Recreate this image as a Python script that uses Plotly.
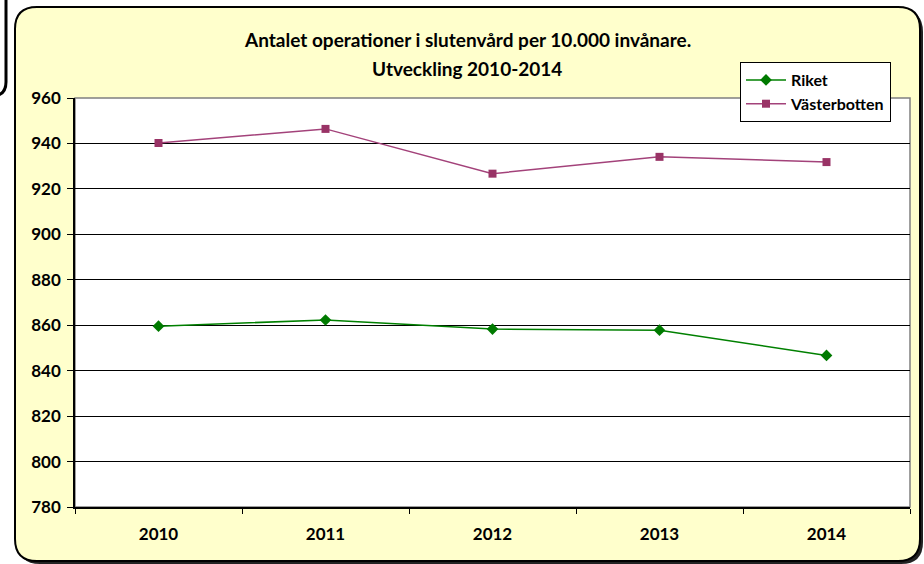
import plotly.graph_objects as go

W, H = 924, 564
L, R, T, B = 75, 14, 98, 57

years = ["2010", "2011", "2012", "2013", "2014"]
riket = [859.6, 862.3, 858.3, 857.8, 846.7]
vasterbotten = [940.2, 946.4, 926.7, 934.1, 931.8]
y_ticks = list(range(780, 961, 20))
title_lines = ["Antalet operationer i slutenvård per 10.000 invånare.", "Utveckling 2010-2014"]

PW, PH = W - L - R, H - T - B


def px(x, y):
    """pixel coords -> paper coords"""
    return (x - L) / PW, (H - B - y) / PH


def rounded_path(x0, y0, x1, y1, r):
    pts = []
    a = px(x0 + r, y0); pts.append(f"M{a[0]},{a[1]}")
    b = px(x1 - r, y0); pts.append(f"L{b[0]},{b[1]}")
    c = px(x1, y0); d = px(x1, y0 + r); pts.append(f"Q{c[0]},{c[1]} {d[0]},{d[1]}")
    e = px(x1, y1 - r); pts.append(f"L{e[0]},{e[1]}")
    f = px(x1, y1); g = px(x1 - r, y1); pts.append(f"Q{f[0]},{f[1]} {g[0]},{g[1]}")
    h = px(x0 + r, y1); pts.append(f"L{h[0]},{h[1]}")
    i = px(x0, y1); j = px(x0, y1 - r); pts.append(f"Q{i[0]},{i[1]} {j[0]},{j[1]}")
    k = px(x0, y0 + r); pts.append(f"L{k[0]},{k[1]}")
    m = px(x0, y0); pts.append(f"Q{m[0]},{m[1]} {a[0]},{a[1]} Z")
    return " ".join(pts)


def left_piece():
    a = px(6, -5); b = px(6, 82); c = px(6, 96); d = px(-8, 96)
    return f"M{a[0]},{a[1]} L{b[0]},{b[1]} Q{c[0]},{c[1]} {d[0]},{d[1]}"


font = "Lato, 'Noto Sans', sans-serif"

fig = go.Figure()
fig.add_trace(go.Scatter(
    x=years, y=riket, name="Riket", mode="lines+markers",
    line=dict(color="#008000", width=1.5),
    marker=dict(symbol="diamond", size=9, color="#007A00"),
))
fig.add_trace(go.Scatter(
    x=years, y=vasterbotten, name="Västerbotten", mode="lines+markers",
    line=dict(color="#A3427A", width=1.5),
    marker=dict(symbol="square", size=8, color="#993366"),
))

shapes = [
    # shadow
    dict(type="path", path=rounded_path(18, 10, 923, 564, 22), xref="paper", yref="paper",
         fillcolor="#222222", line=dict(width=0), layer="below"),
    dict(type="path", path=rounded_path(15, 7, 920, 561, 22), xref="paper", yref="paper",
         fillcolor="#FFFFCC", line=dict(color="black", width=2), layer="below"),
    dict(type="rect", x0=0, x1=1, y0=0, y1=1, xref="paper", yref="paper",
         fillcolor="white", line=dict(color="#808080", width=1.5), layer="below"),
    dict(type="path", path=left_piece(), xref="paper", yref="paper",
         line=dict(color="black", width=3)),
]

annotations = []
for text, ypix in zip(title_lines, [40, 68]):
    ax, ay = px(467, ypix)
    annotations.append(dict(
        text=text, x=ax, y=ay, xref="paper", yref="paper",
        xanchor="center", yanchor="middle", showarrow=False,
        font=dict(family=font, size=19, color="black", weight="bold"),
    ))

fig.update_layout(
    width=W, height=H,
    margin=dict(l=L, r=R, t=T, b=B),
    paper_bgcolor="white",
    plot_bgcolor="rgba(0,0,0,0)",
    shapes=shapes,
    annotations=annotations,
    legend=dict(
        x=px(740, 62)[0], y=px(740, 62)[1], xanchor="left", yanchor="top",
        bgcolor="white", bordercolor="black", borderwidth=1,
        font=dict(family=font, size=16, color="black", weight="bold"),
        tracegroupgap=2, itemwidth=40,
    ),
    font=dict(family=font, color="black"),
    showlegend=True,
)
fig.update_xaxes(
    type="category", range=[-0.5, 4.5], tickson="boundaries", ticks="outside", ticklen=5,
    tickcolor="black", showline=True, linecolor="black", linewidth=1.5,
    showgrid=False, tickfont=dict(family=font, size=17, weight="bold"),
    ticklabelstandoff=11,
)
fig.update_yaxes(
    range=[780, 960], tickvals=y_ticks, ticks="outside", ticklen=6,
    tickcolor="black", showline=True, linecolor="black", linewidth=1.5,
    showgrid=True, gridcolor="black", gridwidth=1, zeroline=False,
    tickfont=dict(family=font, size=17, weight="bold"), ticklabelstandoff=3,
)

fig.write_html("out.html", config={"displayModeBar": False})

# drop the default body margin so the figure sits at the window's top-left
with open("out.html", encoding="utf-8") as fh:
    html = fh.read()
html = html.replace("<body>", "<body style=\"margin:0;overflow:hidden\">", 1)
with open("out.html", "w", encoding="utf-8") as fh:
    fh.write(html)
